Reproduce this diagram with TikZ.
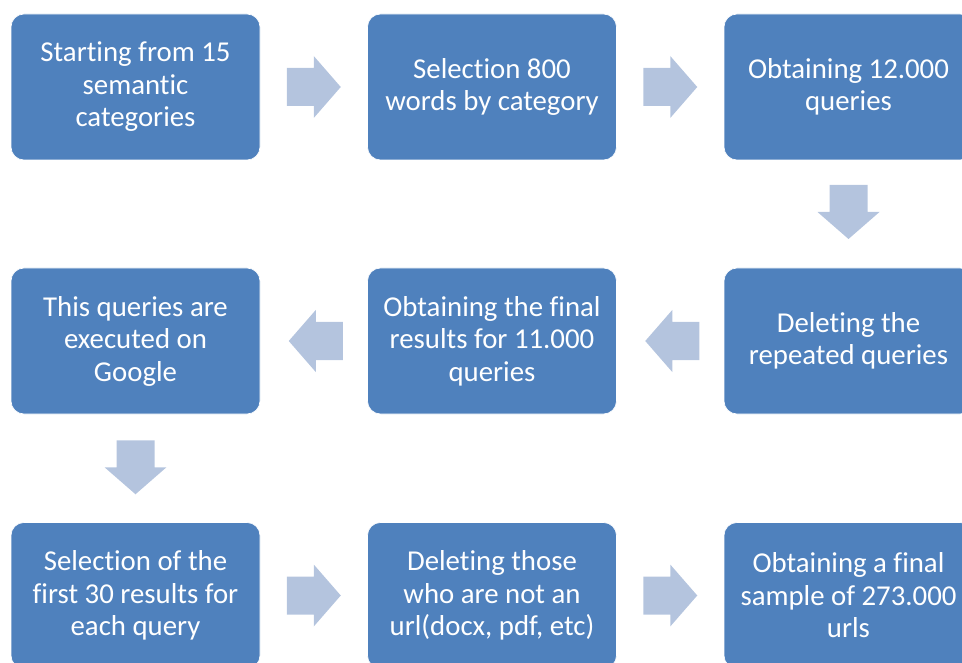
\documentclass[tikz,border=0pt]{standalone}
\usepackage{fontspec}
\setmainfont{Carlito}[RawFeature={-liga;-clig;-dlig;-calt}]
\usetikzlibrary{calc}
\definecolor{boxblue}{RGB}{79,129,189}
\definecolor{arrowblue}{RGB}{180,196,222}
\begin{document}
\begin{tikzpicture}[x=1pt,y=1pt,
  stepbox/.style={rectangle, rounded corners=13pt, fill=boxblue, draw=white, line width=0.6pt,
    minimum width=249pt, minimum height=146pt, inner sep=0pt, align=center,
    text=white, font=\fontsize{28.8}{32.5}\selectfont},
  blockarrow/.pic={\fill[arrowblue] (-27,-19) -- (0,-19) -- (0,-31) -- (27,0) -- (0,31) -- (0,19) -- (-27,19) -- cycle;}
]
\useasboundingbox (0,0) rectangle (962,-663);
\clip (0,0) rectangle (962,-663);
% row 1
\node[stepbox] (a) at (135.5,-87) {Starting from 15\\semantic\\categories};
\node[stepbox] (b) at (492,-87) {Selection 800\\words by category};
\node[stepbox] (c) at (848.5,-87) {Obtaining 12.000\\queries};
% row 2
\node[stepbox] (d) at (848.5,-341) {Deleting the\\repeated queries};
\node[stepbox] (e) at (492,-341) {Obtaining the final\\results for 11.000\\queries};
\node[stepbox] (f) at (135.5,-341) {This queries are\\executed on\\Google};
% row 3
\node[stepbox] (g) at (135.5,-595.5) {Selection of the\\first 30 results for\\each query};
\node[stepbox] (h) at (492,-595.5) {Deleting those\\who are not an\\url(docx, pdf, etc)};
\node[stepbox] (i) at (848.5,-595.5) {Obtaining a final\\sample of 273.000\\urls};
% arrows
\pic at ($(a.east)!0.5!(b.west)$) {blockarrow};
\pic at ($(b.east)!0.5!(c.west)$) {blockarrow};
\pic[rotate=-90] at ($(c.south)!0.5!(d.north)+(0,2)$) {blockarrow};
\pic[rotate=180] at ($(d.west)!0.5!(e.east)+(2,0)$) {blockarrow};
\pic[rotate=180] at ($(e.west)!0.5!(f.east)+(2,0)$) {blockarrow};
\pic[rotate=-90] at ($(f.south)!0.5!(g.north)+(0,1)$) {blockarrow};
\pic at ($(g.east)!0.5!(h.west)$) {blockarrow};
\pic at ($(h.east)!0.5!(i.west)$) {blockarrow};
\end{tikzpicture}
\end{document}
